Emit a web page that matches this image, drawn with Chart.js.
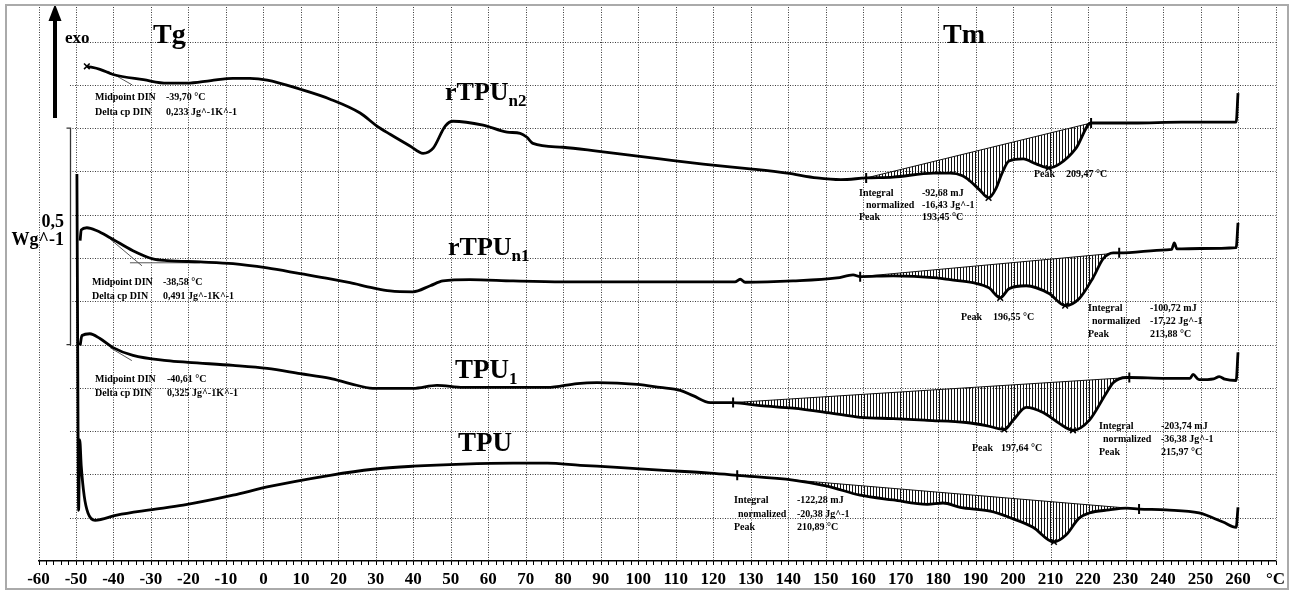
<!DOCTYPE html>
<html><head><meta charset="utf-8">
<script src="https://cdn.jsdelivr.net/npm/chart.js@4.4.0/dist/chart.umd.min.js"></script>
<style>html,body{margin:0;padding:0;background:#fff;}#wrap{width:1296px;height:591px;position:relative;}</style>
</head><body><div id="wrap"><canvas id="c" width="1296" height="591"></canvas></div>
<script>
// ---- x tick labels (°C) ----
const tickLabels = ['-60','-50','-40','-30','-20','-10','0','10','20','30','40','50','60','70','80','90','100','110','120','130','140','150','160','170','180','190','200','210','220','230','240','250','260','°C'];

// ---- rTPU n2 (temperature °C, heat flow W/g with offset) ----
const n2T = [-47.1,-43.6,-40.1,-32.0,-25.7,-20.4,-14.0,-8.1,-3.6,1.0,9.8,17.8,25.8,30.3,33.8,39.1,42.6,45.3,48.5,50.6,58.6,65.0,68.5,70.3,71.9,79.9,89.0,105.8,117.3,129.8,139.7,147.7,154.0,160.8,168.0,178.7,183.2,186.5,188.5,191.0,193.45,195.5,197.0,198.9,202.7,206.0,209.47,212.3,216.8,220.8,232.0,245.0,259.5,260.0];
const n2W = [1.143,1.136,1.124,1.112,1.104,1.104,1.110,1.115,1.115,1.111,1.090,1.067,1.035,1.005,0.986,0.959,0.942,0.954,1.005,1.016,1.007,0.991,0.988,0.979,0.965,0.956,0.947,0.929,0.917,0.906,0.896,0.885,0.881,0.885,0.887,0.896,0.896,0.890,0.878,0.858,0.839,0.862,0.895,0.924,0.929,0.918,0.908,0.917,0.954,1.012,1.012,1.014,1.014,1.081];

// ---- rTPU n1 ----
const n1T = [-48.9,-48.6,-47.1,-44.4,-40.9,-34.8,-29.5,-25.7,-16.9,-8.1,1.0,9.8,17.8,23.1,29.2,33.8,39.9,44.5,47.9,55.1,66.6,79.9,105.8,123.7,125.8,127.2,128.5,141.3,153.0,157.3,159.2,168.0,179.7,183.2,189.3,193.6,196.55,198.9,203.5,209.6,213.88,217.6,221.3,224.0,226.7,228.3,240.8,242.3,243.0,243.7,250.0,259.5,260.0];
const n1W = [0.740,0.765,0.770,0.763,0.747,0.717,0.698,0.694,0.691,0.687,0.677,0.664,0.652,0.643,0.631,0.624,0.622,0.636,0.647,0.650,0.647,0.645,0.645,0.645,0.645,0.651,0.644,0.647,0.654,0.661,0.657,0.659,0.654,0.650,0.643,0.631,0.608,0.629,0.636,0.618,0.590,0.606,0.654,0.698,0.712,0.712,0.719,0.720,0.735,0.721,0.722,0.724,0.781];

// ---- TPU 1 ----
const t1T = [-48.9,-48.4,-46.3,-43.6,-40.1,-34.8,-25.7,-20.1,-8.1,1.0,9.8,17.8,23.1,29.2,39.9,46.3,53.3,66.6,75.7,83.7,89.0,99.7,105.8,111.2,114.6,119.2,125.3,132.5,141.3,150.4,159.2,168.0,177.1,187.5,192.8,197.64,200.0,203.5,208.0,212.3,215.97,220.3,224.8,226.7,230.2,231.0,240.8,247.2,248.0,249.6,253.5,255.0,256.5,259.5,260.0];
const t1W = [0.498,0.521,0.525,0.514,0.493,0.475,0.463,0.459,0.452,0.445,0.433,0.422,0.410,0.399,0.399,0.406,0.401,0.401,0.401,0.410,0.412,0.408,0.401,0.394,0.382,0.366,0.366,0.359,0.353,0.343,0.332,0.329,0.325,0.320,0.313,0.304,0.325,0.355,0.343,0.318,0.302,0.325,0.387,0.412,0.424,0.424,0.422,0.422,0.431,0.419,0.421,0.426,0.420,0.417,0.482];

// ---- TPU ----
const tpT = [-49.75,-49.5,-49.3,-49.0,-48.6,-47.8,-46.8,-44.9,-39.1,-30.3,-21.4,-8.1,1.0,17.8,29.2,39.9,53.3,66.6,75.7,84.5,93.3,105.8,119.2,126.4,141.3,150.4,159.2,168.0,177.1,181.3,185.9,193.9,198.9,205.3,210.89,214.1,217.6,220.3,225.6,230.2,233.6,240.8,249.6,256.0,259.5,260.0];
const tpW = [0.894,0.400,0.117,0.280,0.220,0.150,0.111,0.094,0.106,0.118,0.129,0.152,0.171,0.198,0.212,0.219,0.224,0.226,0.226,0.221,0.217,0.210,0.203,0.198,0.187,0.173,0.152,0.141,0.131,0.134,0.124,0.115,0.101,0.078,0.044,0.060,0.099,0.111,0.118,0.122,0.120,0.118,0.111,0.090,0.078,0.124];

// ---- melting integration baselines ----
const n2BaseT = [160.8,220.8], n2BaseW = [0.885,1.012];
const n1BaseT = [159.2,228.3], n1BaseW = [0.657,0.712];
const t1BaseT = [125.3,231.0], t1BaseW = [0.366,0.424];
const tpBaseT = [126.4,233.6], tpBaseW = [0.198,0.120];

// ---- peak temperatures (°C) ----
const n2Peaks = [193.45,209.47];
const n1Peaks = [196.55,213.88];
const t1Peaks = [197.64,215.97];
const tpPeaks = [210.89];

// ---- Tg tangent constructions ----
const n2TanT = [-41.5,-35.0], n2TanW = [1.132,1.100];
const n1TanT = [-40.9,-32.4], n1TanW = [0.744,0.682];
const n1Tan2T = [-35.6,-16.9], n1Tan2W = [0.689,0.689];
const t1TanT = [-40.9,-35.1], t1TanW = [0.493,0.463];

// scale bar 0.5 W/g
const scaleBarW = [0.5, 1.0];
const scaleBarT = -51.6;

const pts = (T,W) => T.map((t,i)=>({x:t,y:W[i]}));
const yAt = (T,W,t) => { for(let i=1;i<T.length;i++){ if(t<=T[i]){ const f=(t-T[i-1])/(T[i]-T[i-1]); return W[i-1]+f*(W[i]-W[i-1]); } } return W[W.length-1]; };

const pc = document.createElement('canvas'); pc.width=3; pc.height=1;
const pctx = pc.getContext('2d'); pctx.fillStyle='#111'; pctx.fillRect(0,0,1,1);
const hatch = pctx.createPattern(pc,'repeat');

function curve(T,W){ return {data:pts(T,W), borderColor:'#000', borderWidth:2.8, pointRadius:0, cubicInterpolationMode:'monotone', fill:false}; }
function base(T,W){ return {data:pts(T,W), borderColor:'#111', borderWidth:1, fill:'-1', backgroundColor:hatch, tension:0,
  pointRadius:5, pointStyle:'line', pointRotation:90, pointBorderColor:'#000', pointBorderWidth:2}; }
function thin(T,W){ return {data:pts(T,W), borderColor:'#555', borderWidth:1, pointRadius:0, fill:false, tension:0}; }
function marks(P,T,W){ return {data:P.map(p=>({x:p,y:yAt(T,W,p)})), showLine:false, pointStyle:'crossRot', pointRadius:4, pointBorderColor:'#000', pointBorderWidth:1.5, fill:false}; }

const datasets = [
  curve(n2T,n2W), base(n2BaseT,n2BaseW),
  curve(n1T,n1W), base(n1BaseT,n1BaseW),
  curve(t1T,t1W), base(t1BaseT,t1BaseW),
  curve(tpT,tpW), base(tpBaseT,tpBaseW),
  thin(n2TanT,n2TanW), thin(n1TanT,n1TanW), thin(n1Tan2T,n1Tan2W), thin(t1TanT,t1TanW),
  marks(n2Peaks,n2T,n2W), marks(n1Peaks,n1T,n1W), marks(t1Peaks,t1T,t1W), marks(tpPeaks,tpT,tpW),
  {data:[{x:n2T[0],y:n2W[0]}], showLine:false, pointStyle:'crossRot', pointRadius:4, pointBorderColor:'#000', pointBorderWidth:1.5}
];

const SERIF = '"Liberation Serif","Times New Roman",serif';
const smallTexts = [
 ['Midpoint DIN',95,97],['-39,70 °C',166,97],['Delta cp DIN',95,112],['0,233 Jg^-1K^-1',166,112],
 ['Midpoint DIN',92,282],['-38,58 °C',163,282],['Delta cp DIN',92,296],['0,491 Jg^-1K^-1',163,296],
 ['Midpoint DIN',95,379],['-40,61 °C',167,379],['Delta cp DIN',95,393],['0,325 Jg^-1K^-1',167,393],
 ['Integral',859,193],['-92,68 mJ',922,193],['normalized',866,205],['-16,43 Jg^-1',922,205],['Peak',859,217],['193,45 °C',922,217],
 ['Peak',1034,174],['209,47 °C',1066,174],
 ['Peak',961,317],['196,55 °C',993,317],
 ['Integral',1088,308],['-100,72 mJ',1150,308],['normalized',1092,321],['-17,22 Jg^-1',1150,321],['Peak',1088,334],['213,88 °C',1150,334],
 ['Peak',972,448],['197,64 °C',1001,448],
 ['Integral',1099,426],['-203,74 mJ',1161,426],['normalized',1103,439],['-36,38 Jg^-1',1161,439],['Peak',1099,452],['215,97 °C',1161,452],
 ['Integral',734,500],['-122,28 mJ',797,500],['normalized',738,514],['-20,38 Jg^-1',797,514],['Peak',734,527],['210,89 °C',797,527]
];
const bigLabels = [ // text, sub, x, y, size
 ['rTPU','n2',445,100,26],['rTPU','n1',448,255,26],['TPU','1',455,378,27],['TPU','',458,451,27]
];

const deco = {
  id:'deco',
  beforeDatasetsDraw(chart){
    const {ctx, chartArea:a, scales:{x,y}} = chart;
    ctx.save();
    ctx.strokeStyle='#3a3a3a'; ctx.lineWidth=1; ctx.setLineDash([1,1.5]);
    for (const t of x.ticks){
      const px=Math.round(x.getPixelForValue(t.value))+0.5;
      ctx.beginPath(); ctx.moveTo(px,a.top); ctx.lineTo(px,a.bottom); ctx.stroke();
    }
    const hx0 = x.getPixelForValue(scaleBarT);
    for (let k=1;k<=12;k++){
      const py=Math.round(y.getPixelForValue(k/10))+0.5;
      ctx.beginPath(); ctx.moveTo(hx0,py); ctx.lineTo(a.right,py); ctx.stroke();
    }
    ctx.restore();
  },
  afterDatasetsDraw(chart){
    const {ctx, chartArea:a, scales:{x,y}} = chart;
    ctx.save();
    ctx.fillStyle='#000';
    ctx.font='bold 10px '+SERIF; ctx.textBaseline='middle'; ctx.textAlign='left';
    for (const [s,tx,ty] of smallTexts) ctx.fillText(s,tx,ty);
    ctx.textBaseline='alphabetic';
    for (const [s,sub,tx,ty,sz] of bigLabels){
      ctx.font='bold '+sz+'px '+SERIF; ctx.fillText(s,tx,ty);
      const w=ctx.measureText(s).width;
      if(sub){ ctx.font='bold 17px '+SERIF; ctx.fillText(sub,tx+w,ty+6); }
    }
    ctx.font='bold 28px '+SERIF; ctx.fillText('Tg',153,43); ctx.fillText('Tm',943,43);
    ctx.font='bold 17px '+SERIF; ctx.fillText('exo',65,43);
    ctx.textAlign='right'; ctx.font='bold 18px '+SERIF;
    ctx.fillText('0,5',64,227); ctx.fillText('Wg^-1',64,245);
    // exo arrow
    ctx.fillRect(53,18,4,100);
    ctx.beginPath(); ctx.moveTo(48.5,21); ctx.lineTo(55,4); ctx.lineTo(61.5,21); ctx.closePath(); ctx.fill();
    // scale bar 0.5 W/g
    const bx = Math.round(x.getPixelForValue(scaleBarT))+0.5;
    const b1 = y.getPixelForValue(scaleBarW[1]), b0 = y.getPixelForValue(scaleBarW[0]);
    ctx.strokeStyle='#333'; ctx.lineWidth=1.3;
    ctx.beginPath(); ctx.moveTo(bx-4,b1); ctx.lineTo(bx,b1); ctx.lineTo(bx,b0); ctx.lineTo(bx-4,b0); ctx.stroke();
    // minor ticks along x axis
    ctx.strokeStyle='#000'; ctx.lineWidth=1;
    for (let v=-60; v<=270; v+=2){
      const px=Math.round(x.getPixelForValue(v))+0.5;
      ctx.beginPath(); ctx.moveTo(px,a.bottom); ctx.lineTo(px,a.bottom+4); ctx.stroke();
    }
    ctx.restore();
  },
  afterDraw(chart){
    const ctx=chart.ctx; ctx.save();
    ctx.strokeStyle='#aaa'; ctx.lineWidth=2; ctx.strokeRect(6,5,1282,584);
    ctx.restore();
  }
};

new Chart(document.getElementById('c'), {
  type:'line',
  data:{datasets},
  options:{
    responsive:false, animation:false, events:[],
    layout:{padding:{left:38.5, right:20.5, top:5, bottom:0}},
    plugins:{legend:{display:false}, tooltip:{enabled:false}},
    scales:{
      x:{type:'linear', min:-60, max:270,
         afterFit:s=>{s.height=30;},
         grid:{display:false, drawTicks:false},
         border:{display:true, color:'#000', width:1.5},
         ticks:{stepSize:10, autoSkip:false, maxRotation:0, padding:8, color:'#000',
                font:{family:SERIF, size:17, weight:'bold'},
                callback:(v,i)=>tickLabels[i]}},
      y:{type:'linear', min:0, max:1.28, display:false}
    }
  },
  plugins:[deco]
});
</script></body></html>
